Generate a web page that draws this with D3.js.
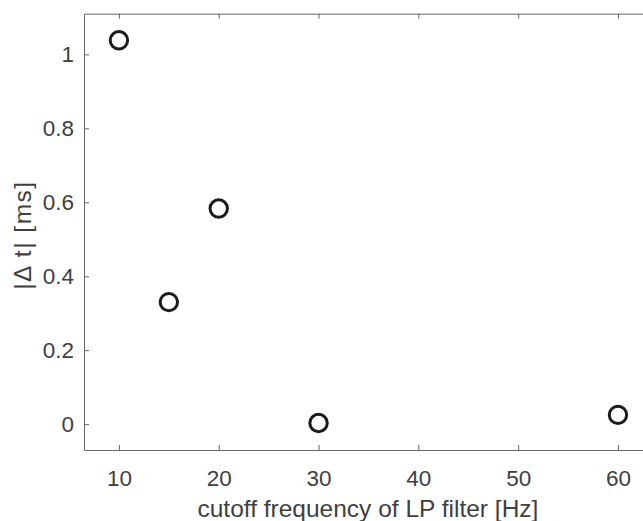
<!DOCTYPE html>
<html>
<head>
<meta charset="utf-8">
<script src="https://d3js.org/d3.v7.min.js"></script>
<style>
    body { margin: 0; background: #fff; }
    #plot text { font-family: "Liberation Sans", Arial, Helvetica, sans-serif; }
</style>
</head>
<body>
<div id="plot"></div>
<script>

//Data
const cutoffFreq = [10, 15, 20, 30, 60];
const deltaT = [1.038, 0.33, 0.583, 0.003, 0.025];

const xTicks = [10, 20, 30, 40, 50, 60];
const yTicks = [0, 0.2, 0.4, 0.6, 0.8, 1];
const yTickLabels = ["0", "0.2", "0.4", "0.6", "0.8", "1"];

const xLabel = "cutoff frequency of LP filter [Hz]";
const yLabel = "|\u0394 t| [ms]";

class ScatterPlot {

    constructor (freq, dt)
    {
        this.width = 643;
        this.height = 521;

        //Axes box, MATLAB style limits
        this.x = d3.scaleLinear().domain([6.5, 63.4]).range([84, 651.9]);
        this.y = d3.scaleLinear().domain([-0.07, 1.11]).range([450, 13.7]);

        this.svg = d3.select("#plot").append("svg")
            .attr("width", this.width)
            .attr("height", this.height);

        this.points = freq.map((f, i) => ({f: f, dt: dt[i]}));
    };

    drawAxes()
    {
        let x = this.x, y = this.y;
        let axisColor = "#666";
        let textColor = "#404040";

        let bottom = this.svg.append("g")
            .attr("transform", "translate(0," + y.range()[0] + ")")
            .call(d3.axisBottom(x).tickValues(xTicks).tickFormat(d3.format("d"))
                .tickSizeInner(-5).tickSizeOuter(0).tickPadding(20.5));

        let top = this.svg.append("g")
            .attr("transform", "translate(0," + y.range()[1] + ")")
            .call(d3.axisTop(x).tickValues(xTicks).tickFormat("")
                .tickSizeInner(-5).tickSizeOuter(0));

        let left = this.svg.append("g")
            .attr("transform", "translate(" + x.range()[0] + ",0)")
            .call(d3.axisLeft(y).tickValues(yTicks).tickFormat((d, i) => yTickLabels[i])
                .tickSizeInner(-5).tickSizeOuter(0).tickPadding(10));

        let right = this.svg.append("g")
            .attr("transform", "translate(" + x.range()[1] + ",0)")
            .call(d3.axisRight(y).tickValues(yTicks).tickFormat("")
                .tickSizeInner(-5).tickSizeOuter(0));

        [bottom, top, left, right].forEach(g => {
            g.select(".domain").attr("stroke", axisColor);
            g.selectAll(".tick line").attr("stroke", axisColor);
            g.selectAll(".tick text")
                .attr("fill", textColor)
                .style("font-size", "22.5px");
        });

        //Axis labels (MATLAB draws them 10% larger than tick labels)
        this.svg.append("text")
            .attr("x", (x.range()[0] + x.range()[1]) / 2)
            .attr("y", 516.5)
            .attr("text-anchor", "middle")
            .attr("fill", textColor)
            .style("font-size", "24.5px")
            .text(xLabel);

        this.svg.append("text")
            .attr("transform", "translate(31," + ((y.range()[0] + y.range()[1]) / 2 + 4) + ") rotate(-90)")
            .attr("text-anchor", "middle")
            .attr("fill", textColor)
            .attr("textLength", 108)
            .attr("lengthAdjust", "spacing")
            .style("font-size", "24.5px")
            .text(yLabel);
    };

    drawPoints()
    {
        this.svg.append("g").selectAll("circle")
            .data(this.points)
            .join("circle")
            .attr("cx", d => this.x(d.f))
            .attr("cy", d => this.y(d.dt))
            .attr("r", 8.7)
            .attr("fill", "none")
            .attr("stroke", "#1a1a1a")
            .attr("stroke-width", 3);
    };

}

let plot = new ScatterPlot(cutoffFreq, deltaT);
plot.drawAxes();
plot.drawPoints();

</script>
</body>
</html>
